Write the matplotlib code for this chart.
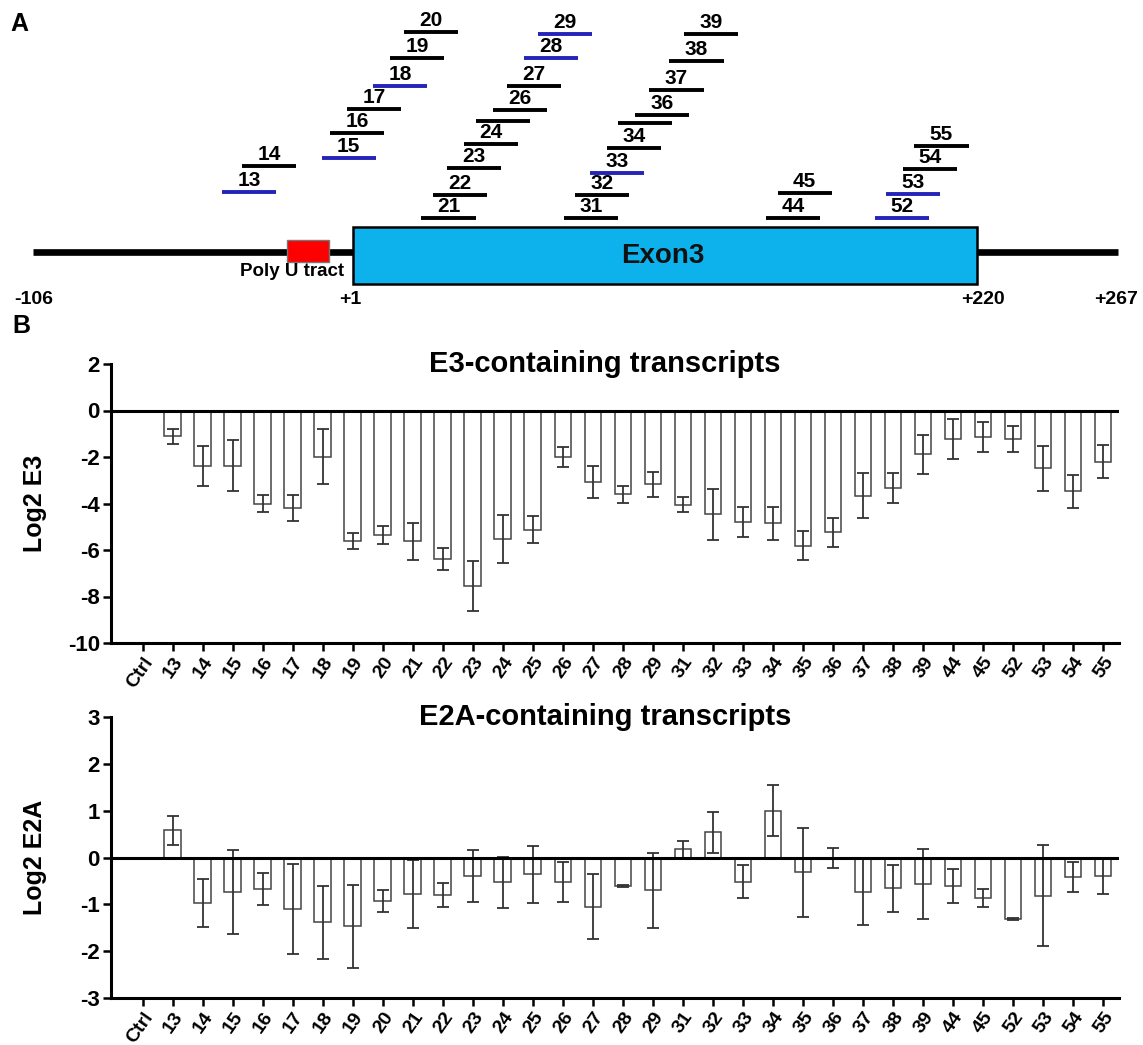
import numpy as np
import matplotlib.pyplot as plt
from matplotlib.patches import Rectangle

plt.rcParams['font.family'] = ['Liberation Sans', 'DejaVu Sans']
plt.rcParams['font.weight'] = 'bold'
plt.rcParams['axes.labelweight'] = 'bold'
plt.rcParams['axes.unicode_minus'] = False

W, H = 1143, 1045

# ---- panel B data ----
labels = ['Ctrl', '13', '14', '15', '16', '17', '18', '19', '20', '21', '22', '23',
          '24', '25', '26', '27', '28', '29', '31', '32', '33', '34', '35', '36',
          '37', '38', '39', '44', '45', '52', '53', '54', '55']
e3_mean = [0, -1.10, -2.37, -2.38, -4.00, -4.20, -1.98, -5.63, -5.36, -5.63, -6.38,
           -7.56, -5.53, -5.12, -2.00, -3.07, -3.61, -3.17, -4.06, -4.46, -4.79,
           -4.85, -5.81, -5.23, -3.67, -3.34, -1.89, -1.22, -1.13, -1.22, -2.49,
           -3.48, -2.21]
e3_err = [0, 0.32, 0.86, 1.10, 0.38, 0.57, 1.17, 0.34, 0.40, 0.80, 0.48, 1.08,
          1.05, 0.58, 0.43, 0.70, 0.38, 0.54, 0.32, 1.09, 0.63, 0.72, 0.62, 0.62,
          0.97, 0.64, 0.82, 0.86, 0.64, 0.56, 0.97, 0.70, 0.71]
e2a_mean = [0, 0.58, -0.97, -0.73, -0.68, -1.09, -1.38, -1.47, -0.93, -0.78, -0.80,
            -0.40, -0.53, -0.36, -0.53, -1.05, -0.61, -0.70, 0.18, 0.54, -0.52,
            1.00, -0.31, -0.01, -0.73, -0.66, -0.56, -0.61, -0.87, -1.32, -0.82,
            -0.42, -0.40]
e2a_err = [0, 0.31, 0.52, 0.90, 0.34, 0.96, 0.78, 0.88, 0.23, 0.73, 0.25, 0.56,
           0.54, 0.61, 0.43, 0.70, 0.02, 0.80, 0.18, 0.44, 0.35, 0.54, 0.95, 0.22,
           0.71, 0.51, 0.75, 0.37, 0.19, 0.02, 1.08, 0.32, 0.39]

# ---- panel A data (positions in nt relative to exon 3 start) ----
aso_names = [13, 14, 15, 16, 17, 18, 19, 20, 21, 22, 23, 24, 25, 26, 27, 28, 29,
             31, 32, 33, 34, 35, 36, 37, 38, 39, 44, 45, 52, 53, 54, 55]
aso_start = [-45, -38, -10, -7, -1, 8, 14, 19, 25, 29, 34, 40, 44, 50, 55, 61, 66,
             75, 79, 84, 90, 94, 100, 105, 112, 117, 146, 150, 184, 188, 194, 198]
aso_len = 19
aso_blue = [13, 15, 18, 28, 29, 33, 52, 53]
aso_unlabeled = [25, 35]
# drawing row of each oligo (pixels from top of figure)
aso_row = [192, 166, 158, 133, 109, 86, 58, 32, 218, 195, 168, 144, 121, 110, 86, 58, 34,
           218, 195, 173, 148, 123, 115, 90, 61, 34, 218, 193, 218, 194, 169, 146]

fig = plt.figure(figsize=(W / 100, H / 100), dpi=100)

# ---------------- panel A ----------------
px0, ppn = 353, 2.85  # pixel of +1, pixels per nt


def nt(px):
    return 1 + (px - px0) / ppn


axa = fig.add_axes([0, 0, 1, 1])
axa.set_xlim(nt(0), nt(W))
axa.set_ylim(H, 0)
axa.axis('off')

axa.plot([nt(33), nt(1118)], [252, 252], color='black', lw=4.8, solid_capstyle='butt', zorder=1)
axa.add_patch(Rectangle((-22, 240), 14.5, 22, facecolor='#ff0000', edgecolor='#777777', lw=1, zorder=2))
axa.add_patch(Rectangle((1, 227), 219, 57, facecolor='#0db2ec', edgecolor='black', lw=1.8, zorder=2))
axa.text(nt(663), 256, 'Exon3', fontsize=20, ha='center', va='center', color='#111111', zorder=3)
axa.text(nt(292), 272, 'Poly U tract', fontsize=13.5, ha='center', va='center')
for txt, px in [('-106', 34), ('+1', 350), ('+220', 983), ('+267', 1116)]:
    axa.text(nt(px), 300, txt, fontsize=14, ha='center', va='center')

for name, s, y in zip(aso_names, aso_start, aso_row):
    col = '#2424b8' if name in aso_blue else 'black'
    axa.plot([s, s + aso_len], [y, y], color=col, lw=2.8, solid_capstyle='butt')
    if name not in aso_unlabeled:
        axa.text(s + aso_len / 2, y - 2, str(name), fontsize=15, ha='center', va='bottom')

fig.text(19 / W, 1 - 24 / H, 'A', fontsize=18, ha='center', va='center')
fig.text(21 / W, 1 - 326 / H, 'B', fontsize=18, ha='center', va='center')

# ---------------- panel B ----------------
x = np.arange(len(labels))


def bar_panel(rect, mean, err, ylim, yticks, ylabel, title):
    ax = fig.add_axes(rect)
    ax.bar(x, mean, width=0.55, facecolor='white', edgecolor='#444444', lw=1.1, zorder=2)
    xs = [i for i in x if labels[i] != 'Ctrl']
    ax.errorbar(xs, [mean[i] for i in xs], yerr=[err[i] for i in xs], fmt='none',
                ecolor='#333333', elinewidth=1.3, capsize=4, capthick=1.3, zorder=3)
    ax.axhline(0, color='black', lw=2.2, zorder=4)
    ax.set_xlim(-1.05, len(labels) - 0.47)
    ax.set_ylim(*ylim)
    ax.set_yticks(yticks)
    ax.set_xticks(x)
    ax.set_xticklabels(labels, rotation=55, ha='right', rotation_mode='anchor', fontsize=14)
    ax.tick_params(axis='y', labelsize=16, width=1.8, length=6, pad=2)
    ax.tick_params(axis='x', width=1.8, length=6, pad=2)
    for s in ['top', 'right']:
        ax.spines[s].set_visible(False)
    for s in ['left', 'bottom']:
        ax.spines[s].set_linewidth(2.2)
    ax.set_ylabel(ylabel, fontsize=18)
    ax.text(0.49, 1.0, title, transform=ax.transAxes, fontsize=21, ha='center', va='center')
    return ax


ax1 = bar_panel([111 / W, 1 - 643 / H, 1008 / W, 279 / H], e3_mean, e3_err,
                (-10, 2), range(-10, 3, 2), 'Log2 E3', 'E3-containing transcripts')
ax2 = bar_panel([111 / W, 1 - 998 / H, 1008 / W, 281 / H], e2a_mean, e2a_err,
                (-3, 3), range(-3, 4), 'Log2 E2A', 'E2A-containing transcripts')
ax1.yaxis.set_label_coords(-0.063, 0.5)
ax2.yaxis.set_label_coords(-0.063, 0.5)

fig.savefig('out.png', dpi=100)
